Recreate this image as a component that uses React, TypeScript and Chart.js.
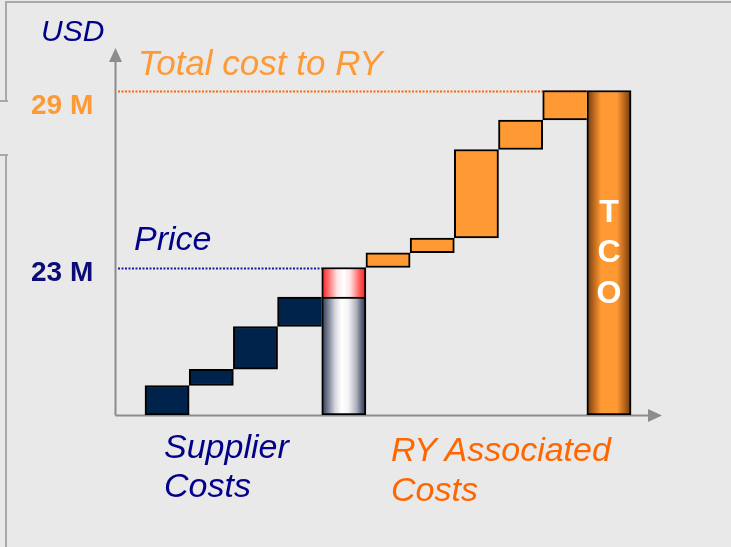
import React, { useEffect, useRef } from "react";
import { Chart, registerables } from "chart.js";

Chart.register(...registerables);

// ---- data (values in USD millions) ----
const baseline = 18;
const axisTop = 30;
const supplierSteps = [1.0, 0.55, 1.45, 1.0];
const supplierMargin = 1.0;
const ryAssociatedSteps = [0.5, 0.5, 3.0, 1.0, 1.0];
const priceLabel = "23 M";
const totalLabel = "29 M";
const axisTitle = "USD";
const priceTitle = "Price";
const totalTitle = "Total cost to RY";
const supplierTitle = ["Supplier", "Costs"];
const ryTitle = ["RY Associated", "Costs"];
const tcoLetters = ["T", "C", "O"];

function cumulative(start: number, steps: number[]): [number, number][] {
  const out: [number, number][] = [];
  let lo = start;
  steps.forEach((s) => {
    out.push([lo, lo + s]);
    lo += s;
  });
  return out;
}

const supplierBars = cumulative(baseline, supplierSteps);
const supplierTotal = supplierBars[supplierBars.length - 1][1];
const priceValue = supplierTotal + supplierMargin;
const ryBars = cumulative(priceValue, ryAssociatedSteps);
const totalValue = ryBars[ryBars.length - 1][1];

const priceIndex = supplierSteps.length;
const ryStart = priceIndex + 1;
const tcoIndex = ryStart + ryAssociatedSteps.length;
const slotIndexes = Array.from({ length: tcoIndex + 1 }, (_, i) => i);

const NAVY_BAR = "#00234b";
const ORANGE_BAR = "#ff9933";
const AXIS = "#8c8c8c";
const NAVY_TEXT = "#000088";
const ORANGE_LIGHT = "#ff9933";
const ORANGE_DARK = "#ff6600";
const FONT = '"Liberation Sans", Arial, Helvetica, sans-serif';
const BG = "#e9e9e9";

const greyStops: [number, string][] = [
  [0, "#2b3652"],
  [0.12, "#6c7488"],
  [0.3, "#d4d6de"],
  [0.45, "#ffffff"],
  [0.6, "#f4f4f6"],
  [0.78, "#b0b4c0"],
  [0.9, "#5e667c"],
  [1, "#26304a"],
];
const redStops: [number, string][] = [
  [0, "#ff1a1a"],
  [0.15, "#ff6f6f"],
  [0.35, "#ffe6e6"],
  [0.5, "#ffffff"],
  [0.65, "#ffe0e0"],
  [0.85, "#ff6060"],
  [1, "#ff1a1a"],
];
const brownStops: [number, string][] = [
  [0, "#6a3a10"],
  [0.15, "#b8661c"],
  [0.32, "#ff9933"],
  [0.68, "#ff9933"],
  [0.85, "#b8661c"],
  [1, "#6a3a10"],
];

function makeGradient(stops: [number, string][]) {
  return (c: any) => {
    const chart = c.chart;
    const xs = chart.scales && chart.scales.x;
    if (!chart.chartArea || !xs || !c.raw) return stops[Math.floor(stops.length / 2)][1];
    const cx = xs.getPixelForValue(c.raw.x);
    const half = Math.abs(xs.getPixelForValue(1) - xs.getPixelForValue(0)) / 2;
    const g = chart.ctx.createLinearGradient(cx - half, 0, cx + half, 0);
    stops.forEach(([o, col]) => g.addColorStop(o, col));
    return g;
  };
}

const guidesPlugin = {
  id: "guides",
  beforeDatasetsDraw(chart: any) {
    const { ctx, chartArea, scales } = chart;
    const x = scales.x;
    const y = scales.y;
    const half = Math.abs(x.getPixelForValue(1) - x.getPixelForValue(0)) / 2;
    ctx.save();
    // dotted guides
    const dotted = (val: number, toIndex: number, color: string) => {
      const py = Math.round(y.getPixelForValue(val)) + 0.5;
      ctx.beginPath();
      ctx.setLineDash([2, 1.5]);
      ctx.lineWidth = 1.8;
      ctx.strokeStyle = color;
      ctx.moveTo(chartArea.left + 2, py);
      ctx.lineTo(x.getPixelForValue(toIndex) - half, py);
      ctx.stroke();
    };
    dotted(totalValue, tcoIndex, ORANGE_DARK);
    dotted(priceValue, priceIndex, "#1a1aa0");
    ctx.setLineDash([]);
    // axes
    ctx.strokeStyle = AXIS;
    ctx.fillStyle = AXIS;
    ctx.lineWidth = 2;
    const ax = chartArea.left - 0.5;
    const ay = chartArea.bottom + 0.5;
    ctx.beginPath();
    ctx.moveTo(ax, ay);
    ctx.lineTo(ax, chartArea.top);
    ctx.moveTo(ax, ay);
    ctx.lineTo(chartArea.right - 12, ay);
    ctx.stroke();
    // arrow heads
    ctx.beginPath();
    ctx.moveTo(ax, chartArea.top - 13);
    ctx.lineTo(ax - 6.5, chartArea.top + 1);
    ctx.lineTo(ax + 6.5, chartArea.top + 1);
    ctx.closePath();
    ctx.fill();
    ctx.beginPath();
    ctx.moveTo(chartArea.right, ay);
    ctx.lineTo(chartArea.right - 14, ay - 6.5);
    ctx.lineTo(chartArea.right - 14, ay + 6.5);
    ctx.closePath();
    ctx.fill();
    ctx.restore();
  },
};

const common = {
  borderColor: "#000000",
  borderSkipped: false as const,
  barPercentage: 1,
  categoryPercentage: 1,
  grouped: false,
};

export default function App() {
  const canvasRef = useRef<HTMLCanvasElement | null>(null);

  useEffect(() => {
    if (!canvasRef.current) return;
    const chart = new Chart(canvasRef.current, {
      type: "bar",
      data: {
        datasets: [
          {
            ...common,
            label: "Supplier costs",
            data: supplierBars.map((r, i) => ({ x: i, y: r })),
            backgroundColor: NAVY_BAR,
            borderWidth: (c: any) =>
              c.dataIndex === supplierBars.length - 1 ? { top: 2, left: 2, bottom: 2, right: 0 } : 2,
          },
          {
            ...common,
            label: "Supplier base",
            data: [{ x: priceIndex, y: [baseline, supplierTotal] }],
            backgroundColor: makeGradient(greyStops),
            borderWidth: 2,
          },
          {
            ...common,
            label: "Supplier margin",
            data: [{ x: priceIndex, y: [supplierTotal, priceValue] }],
            backgroundColor: makeGradient(redStops),
            borderWidth: { top: 2, left: 2, right: 2, bottom: 0 },
          },
          {
            ...common,
            label: "RY associated costs",
            data: ryBars.map((r, i) => ({ x: ryStart + i, y: r })),
            backgroundColor: ORANGE_BAR,
            borderWidth: (c: any) =>
              c.dataIndex === ryBars.length - 1 ? { top: 2, left: 2, bottom: 2, right: 0 } : 2,
          },
          {
            ...common,
            label: "TCO",
            data: [{ x: tcoIndex, y: [baseline, totalValue] }],
            backgroundColor: makeGradient(brownStops),
            borderWidth: 2,
          },
        ] as any,
      },
      options: {
        responsive: false,
        animation: false,
        devicePixelRatio: 1,
        layout: { padding: { left: 116, right: 69, top: 61, bottom: 132 } },
        plugins: { legend: { display: false }, tooltip: { enabled: false } },
        scales: {
          x: {
            type: "linear",
            min: -1.156,
            max: 11.2,
            offset: false,
            display: false,
            afterBuildTicks: (s: any) => {
              s.ticks = slotIndexes.map((v) => ({ value: v }));
            },
          },
          y: {
            min: baseline,
            max: axisTop,
            display: false,
          },
        },
      } as any,
      plugins: [guidesPlugin],
    });
    return () => chart.destroy();
  }, []);

  const text = (
    content: React.ReactNode,
    style: React.CSSProperties
  ) => (
    <div
      style={{
        position: "absolute",
        whiteSpace: "nowrap",
        margin: 0,
        fontFamily: FONT,
        ...style,
      }}
    >
      {content}
    </div>
  );

  return (
    <div
      style={{
        position: "absolute",
        left: 0,
        top: 0,
        width: 731,
        height: 547,
        overflow: "hidden",
        background: BG,
      }}
    >
      <div
        style={{
          position: "absolute",
          left: 5,
          top: 1,
          right: -4,
          bottom: -4,
          borderTop: "2px solid #a9a9a9",
          borderLeft: "2px solid #a9a9a9",
        }}
      />
      <div
        style={{
          position: "absolute",
          left: 0,
          top: 100,
          width: 8,
          height: 52,
          background: BG,
          borderTop: "2px solid #a9a9a9",
          borderBottom: "2px solid #a9a9a9",
        }}
      />
      <canvas
        ref={canvasRef}
        width={731}
        height={547}
        style={{ position: "absolute", left: 0, top: 0, width: 731, height: 547 }}
      />
      {text(axisTitle, { left: 41, top: 15.5, fontSize: 30, lineHeight: "30px", fontStyle: "italic", color: NAVY_TEXT })}
      {text(totalTitle, { left: 138, top: 45, fontSize: 35, lineHeight: "35px", fontStyle: "italic", color: ORANGE_LIGHT })}
      {text(totalLabel, { left: 31, top: 90.5, fontSize: 28, lineHeight: "28px", fontWeight: "bold", color: ORANGE_LIGHT })}
      {text(priceTitle, { left: 134, top: 221, fontSize: 34, lineHeight: "34px", fontStyle: "italic", color: NAVY_TEXT })}
      {text(priceLabel, { left: 31, top: 258, fontSize: 28, lineHeight: "28px", fontWeight: "bold", color: "#0c0c78" })}
      {text(
        supplierTitle.map((l, i) => <div key={i}>{l}</div>),
        { left: 164, top: 426.5, fontSize: 34, lineHeight: "39.5px", fontStyle: "italic", color: NAVY_TEXT }
      )}
      {text(
        ryTitle.map((l, i) => <div key={i}>{l}</div>),
        { left: 391, top: 428.5, fontSize: 34, lineHeight: "40px", fontStyle: "italic", color: ORANGE_DARK }
      )}
      {text(
        tcoLetters.map((l, i) => <div key={i}>{l}</div>),
        { left: 587, width: 44, top: 190.5, fontSize: 32, lineHeight: "40.5px", fontWeight: "bold", color: "#ffffff", textAlign: "center" }
      )}
    </div>
  );
}
